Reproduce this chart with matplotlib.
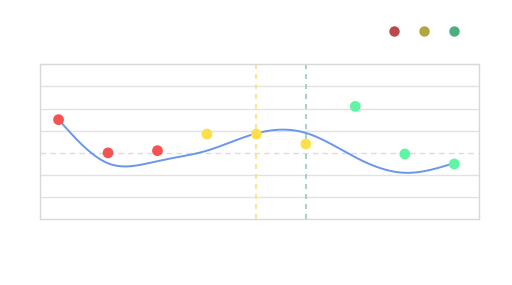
import numpy as np
import matplotlib
matplotlib.use("Agg")
import matplotlib.pyplot as plt
from matplotlib.lines import Line2D

# data
x_idx = [0, 1, 2, 3, 4, 5, 6, 7, 8]
groups = ["A", "A", "A", "B", "B", "B", "C", "C", "C"]
values = [45, 30, 31, 38.5, 38.5, 34, 51, 29.5, 25]
curve_values = [45, 25.3, 26.3, 31, 38.8, 39, 28, 21, 25.4]
ref_y = 30
vlines_x = [4, 5]
group_colors = {"A": "#f55252", "B": "#fbe04b", "C": "#5ef5a3"}
legend_colors = ["#b84a4a", "#b3a53d", "#4caf7e"]
vline_colors = ["#f8e08a", "#8fd0b0"]


def natural_spline(x, y, n=400):
    x = np.asarray(x, float)
    y = np.asarray(y, float)
    m = len(x)
    h = np.diff(x)
    A = np.zeros((m, m))
    b = np.zeros(m)
    A[0, 0] = 1
    A[-1, -1] = 1
    for i in range(1, m - 1):
        A[i, i - 1] = h[i - 1]
        A[i, i] = 2 * (h[i - 1] + h[i])
        A[i, i + 1] = h[i]
        b[i] = 6 * ((y[i + 1] - y[i]) / h[i] - (y[i] - y[i - 1]) / h[i - 1])
    M = np.linalg.solve(A, b)
    xs = np.linspace(x[0], x[-1], n)
    ys = np.empty_like(xs)
    for k, xv in enumerate(xs):
        i = min(np.searchsorted(x, xv, side="right") - 1, m - 2)
        t1 = x[i + 1] - xv
        t0 = xv - x[i]
        ys[k] = (M[i] * t1 ** 3 + M[i + 1] * t0 ** 3) / (6 * h[i]) \
            + (y[i] / h[i] - M[i] * h[i] / 6) * t1 \
            + (y[i + 1] / h[i] - M[i + 1] * h[i] / 6) * t0
    return xs, ys


fig = plt.figure(figsize=(5.12, 2.85), dpi=100)
W, H = 512, 285
ax = fig.add_axes([40 / W, (H - 219.3) / H, (479 - 40) / W, (219.3 - 64.3) / H])

ax.set_xlim(-0.375, 8.5)
ax.set_ylim(0, 70)

for gy in range(10, 70, 10):
    if gy == ref_y:
        continue
    ax.axhline(gy, color="#e2e2e2", lw=1, zorder=1)
ax.axhline(ref_y, color="#dcdcdc", lw=1, ls=(0, (4, 3)), zorder=1)

for vx, vc in zip(vlines_x, vline_colors):
    ax.axvline(vx, color=vc, lw=1.2, ls=(0, (3, 3)), zorder=1)

xs, ys = natural_spline(x_idx, curve_values)
ax.plot(xs, ys, color="#6a96ee", lw=1.4, zorder=2)

ax.scatter(x_idx, values, s=60, c=[group_colors[g] for g in groups],
           zorder=3, linewidths=0)

for sp in ax.spines.values():
    sp.set_color("#d8d8d8")
    sp.set_linewidth(1)
ax.set_xticks([])
ax.set_yticks([])

for i, c in enumerate(legend_colors):
    fig.add_artist(Line2D([(394 + 30 * i) / W], [(H - 31) / H], marker="o",
                          markersize=7.5, color=c, markeredgewidth=0,
                          transform=fig.transFigure))

fig.savefig("out.png", dpi=100)
